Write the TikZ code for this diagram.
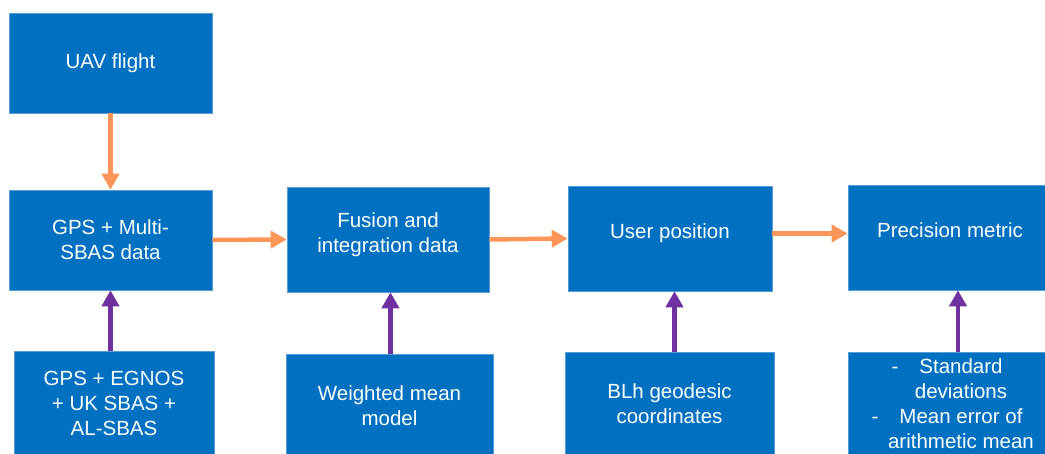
\documentclass[tikz,border=0pt]{standalone}
\usepackage{fontspec}
\setmainfont{Liberation Sans}
\usetikzlibrary{arrows.meta}
\definecolor{boxblue}{RGB}{0,112,192}
\definecolor{boxedge}{RGB}{91,155,213}
\definecolor{flowor}{RGB}{252,150,88}
\definecolor{inpurple}{RGB}{112,48,160}

\begin{document}
\begin{tikzpicture}[x=1pt, y=-1pt,
            every node/.style = {fill=boxblue, draw=boxedge, line width=0.6pt,
                text=white, align=center, inner sep=0pt,
                font=\fontsize{20.5}{25}\selectfont},
            stagebox/.style = {minimum width=203pt, minimum height=100pt},
            rowbox/.style = {minimum height=105pt, text depth=14pt},
            inbox/.style = {minimum height=104pt},
            flow/.style = {-{Triangle[width=17pt,length=16pt]}, line width=4.5pt, draw=flowor},
            feed/.style = {-{Triangle[width=17pt,length=16pt]}, line width=4.5pt, draw=inpurple}
            ]
            \useasboundingbox (0,0) rectangle (1045,454);
            \clip (0,0) rectangle (1045,454);
            % upper row
            \node[stagebox] (uav) at (110.5,63) {UAV flight};
            \node[stagebox] (gps) at (110.5,240) {GPS + Multi-\\SBAS data};
            \node[rowbox, minimum width=202pt] (fusion) at (388,239.5) {Fusion and\\integration data};
            \node[rowbox, minimum width=204pt] (user) at (670,238.5) {User position};
            \node[rowbox, minimum width=204pt] (prec) at (950,237.5) {Precision metric};
            % inputs
            \node[inbox, minimum width=200pt] (sbas) at (114,403) {GPS + EGNOS\\+ UK SBAS +\\AL-SBAS};
            \node[inbox, minimum width=207pt] (wmean) at (389.5,406) {Weighted mean\\model};
            \node[inbox, minimum width=209pt] (blh) at (669.5,404) {BLh geodesic\\coordinates};
            \node[inbox, minimum width=226pt] (stats) at (961,404)
                {\llap{-\hspace{21pt}}Standard\\deviations\\\llap{-\hspace{21pt}}Mean error of\\arithmetic mean};
            % connectors
            \draw[flow] (uav.south) -- (gps.north);
            \draw[flow] (gps.east) -- (fusion.west);
            \draw[flow] (fusion.east) -- (user.west);
            \draw[flow] ([yshift=5pt]user.east) -- ([yshift=5pt]user.east -| prec.west);
            \draw[feed] (gps.south |- sbas.north) -- (gps.south);
            \draw[feed] ([xshift=1pt]wmean.north) -- ([xshift=1pt]wmean.north |- fusion.south);
            \draw[feed] ([xshift=5pt]blh.north) -- ([xshift=5pt]blh.north |- user.south);
            \draw[feed] ([xshift=-3pt]stats.north) -- ([xshift=-3pt]stats.north |- prec.south);
\end{tikzpicture}
\end{document}
